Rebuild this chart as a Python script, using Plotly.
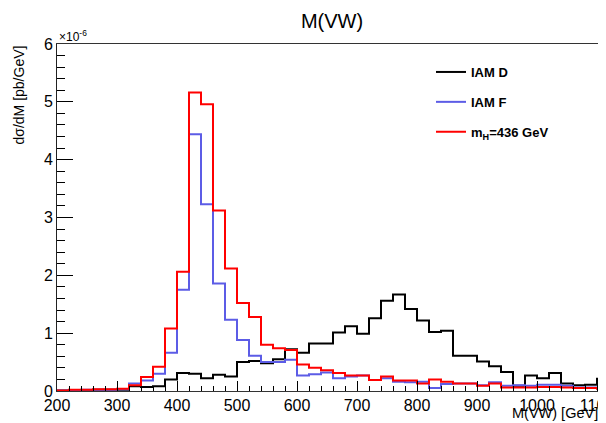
import plotly.graph_objects as go

# bin left edges (GeV), 20 GeV bins
edges = list(range(200, 1140, 20))  # 200 ... 1120 (last is right edge)

iam_d = [0.01, 0.01, 0.01, 0.02, 0.02, 0.02, 0.08, 0.07, 0.08, 0.20,
         0.31, 0.30, 0.22, 0.28, 0.25, 0.50, 0.52, 0.48, 0.55, 0.72,
         0.66, 0.82, 0.82, 1.01, 1.12, 0.99, 1.26, 1.56, 1.67, 1.42,
         1.22, 1.02, 1.04, 0.61, 0.61, 0.51, 0.43, 0.33, 0.09, 0.27,
         0.22, 0.31, 0.13, 0.10, 0.11, 0.21]
iam_f = [0.01, 0.01, 0.02, 0.02, 0.02, 0.03, 0.13, 0.18, 0.30, 0.66,
         1.75, 4.44, 3.23, 1.86, 1.23, 0.88, 0.61, 0.50, 0.50, 0.54,
         0.27, 0.29, 0.32, 0.22, 0.25, 0.27, 0.19, 0.22, 0.16, 0.15,
         0.16, 0.05, 0.12, 0.13, 0.13, 0.10, 0.15, 0.09, 0.10, 0.09,
         0.11, 0.11, 0.09, 0.06, 0.06, 0.05]
mh436 = [0.01, 0.02, 0.02, 0.03, 0.03, 0.04, 0.10, 0.24, 0.42, 1.08,
         2.06, 5.16, 4.96, 3.12, 2.12, 1.52, 1.28, 0.80, 0.74, 0.71,
         0.46, 0.40, 0.36, 0.31, 0.27, 0.27, 0.19, 0.25, 0.18, 0.18,
         0.13, 0.20, 0.16, 0.13, 0.13, 0.09, 0.13, 0.06, 0.06, 0.06,
         0.07, 0.07, 0.06, 0.05, 0.05, 0.04]

names = ["IAM D", "IAM F", "m<sub>H</sub>=436 GeV"]
colors = ["#000000", "#5c5ce6", "#ff0000"]
series = [iam_d, iam_f, mh436]

fig = go.Figure()
for i, (nm, col, ys) in enumerate(zip(names, colors, series)):
    xs = edges[:len(ys) + 1]
    yy = ys + [ys[-1]]
    fig.add_trace(go.Scatter(
        x=xs, y=yy, mode="lines", line=dict(shape="hv", color=col, width=2),
        name="<b>" + nm + "</b>", legendgroup=str(i)))

OFF = 8  # page body margin
L, T, B = 57 - OFF, 44 - OFF, 32
W, H = 606 - OFF, 423 - OFF
plot_w = W - L
plot_h = H - T - B
x0, x1 = 200, 200 + plot_w / 0.6

fig.update_layout(
    width=W, height=H,
    margin=dict(l=L, r=0, t=T, b=B, autoexpand=False),
    paper_bgcolor="white", plot_bgcolor="white",
    font=dict(family="Liberation Sans, Arial, sans-serif", color="black"),
    showlegend=True,
    legend=dict(x=(431 - 57) / plot_w, y=1 - (57 - 44) / plot_h, xanchor="left", yanchor="top",
                font=dict(size=13, color="black"), bgcolor="rgba(0,0,0,0)",
                tracegroupgap=10, itemwidth=30),
    title=dict(text="M(VW)", x=(332 - OFF) / W, xanchor="center", y=1 - (21 - OFF) / H,
               yanchor="middle", font=dict(size=20, color="black")),
)
fig.update_xaxes(range=[x0, x1], showgrid=False, zeroline=False, automargin=False,
                 showline=True, linecolor="#333", linewidth=1, mirror=True,
                 ticks="inside", ticklen=10, tickcolor="black",
                 tick0=200, dtick=100, tickfont=dict(size=16),
                 ticklabeloverflow="allow",
                 minor=dict(ticks="inside", ticklen=5, dtick=20, tickcolor="black"))
fig.update_yaxes(range=[0, 6], showgrid=False, zeroline=False, automargin=False,
                 showline=True, linecolor="#222", linewidth=1, mirror=False,
                 ticks="inside", ticklen=16, tickcolor="black",
                 tick0=0, dtick=1, tickfont=dict(size=16),
                 minor=dict(ticks="inside", ticklen=8, dtick=0.2, tickcolor="black"))

fig.add_annotation(text="×10<sup>-6</sup>", xref="paper", yref="paper",
                   x=0, y=1, xanchor="left", yanchor="bottom", yshift=-2,
                   showarrow=False, font=dict(size=12))
fig.add_annotation(text="dσ/dM [pb/GeV]", xref="paper", yref="paper",
                   x=-(57 - 18) / plot_w, y=1, xanchor="center", yanchor="top",
                   textangle=-90, showarrow=False, font=dict(size=14))
fig.add_annotation(text="M(VW) [GeV]", xref="paper", yref="paper",
                   x=1, xshift=-6, y=-(413 - 391) / plot_h, xanchor="right", yanchor="middle",
                   showarrow=False, font=dict(size=14.5))

fig.write_html("out.html")
